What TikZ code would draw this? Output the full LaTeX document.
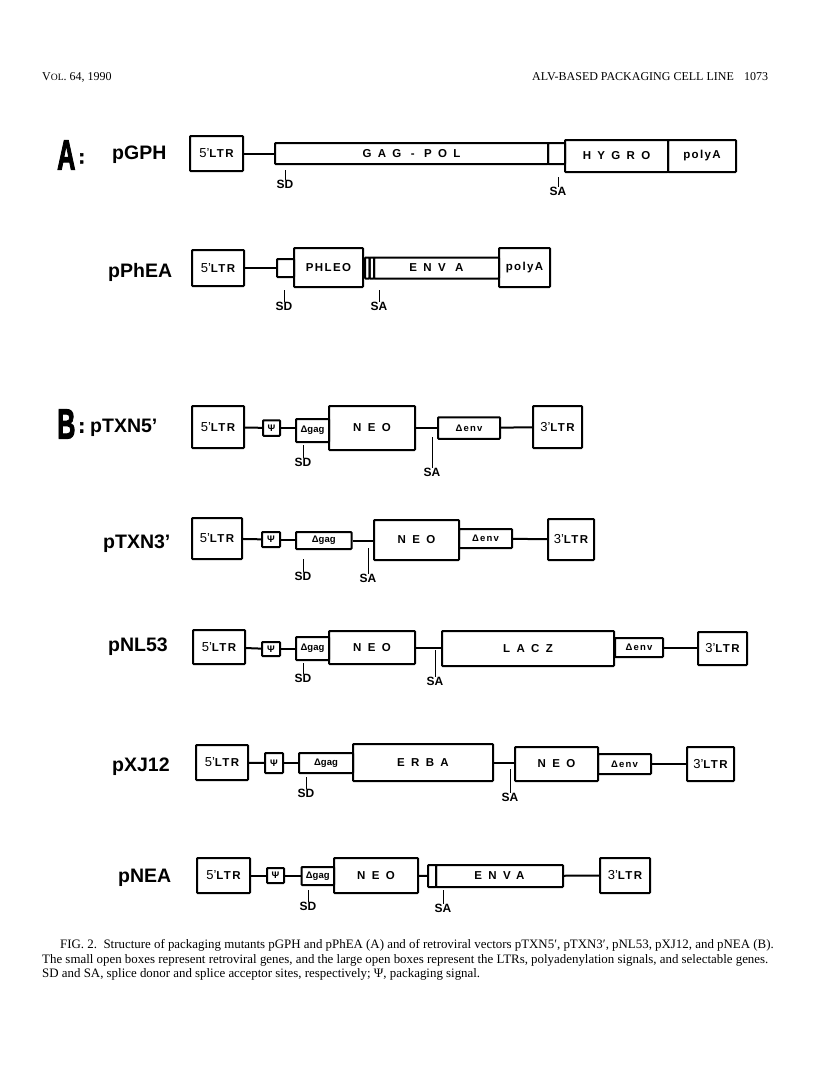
\documentclass[tikz,border=0pt]{standalone}
\usepackage{fontspec}
\setmainfont{Liberation Serif}
\newfontfamily\hel{Liberation Sans}
\newfontfamily\helm[LetterSpace=12]{Liberation Sans}
\newfontfamily\helw[LetterSpace=55]{Liberation Sans}
\newfontfamily\heavy[FakeBold=3]{Liberation Sans Bold}
\usetikzlibrary{positioning}
\newcommand{\fltr}{{\hel\mdseries\fontsize{13}{12}\selectfont 5’}LTR}
\newcommand{\tltr}{{\hel\mdseries\fontsize{13}{12}\selectfont 3’}LTR}

\begin{document}
\begin{tikzpicture}[x=1pt,y=-1pt,
  box/.style={draw,line width=2pt,inner sep=0pt,rounded corners=0.8pt,font=\helm\bfseries\fontsize{11.5}{11}\selectfont},
  wbox/.style={box,font=\helw\bfseries\fontsize{11.5}{11}\selectfont},
  sbox/.style={box,font=\hel\bfseries\fontsize{9.5}{9.5}\selectfont},
  link/.style={line width=2pt},
  tick/.style={line width=1pt},
  site/.style={font=\hel\bfseries\fontsize{12}{12}\selectfont,inner sep=0pt},
  pname/.style={font=\hel\bfseries\fontsize{19.5}{19.5}\selectfont,anchor=west,inner sep=0pt},
  part/.style={font=\heavy\fontsize{42}{42}\selectfont,anchor=west,inner sep=0pt},
  capt/.style={font=\fontsize{12.9}{14}\selectfont,anchor=base west,inner sep=0pt}]
  \useasboundingbox (0,0) rectangle (816,1073);

  % running head
  \node[capt,font=\fontsize{12}{14}\selectfont] (vol) at (42,81) {V{\fontsize{9.6}{10}\selectfont OL}. 64, 1990};
  \node[capt,font=\fontsize{12}{14}\selectfont] (head) at (532,81) {ALV-BASED PACKAGING CELL LINE};
  \node[capt,font=\fontsize{12}{14}\selectfont] (page) at (744,81) {1073};

  % A: pGPH
  \node[part] (partA) at (57,155) {\scalebox{0.6}[1]{A}\hspace{3pt}\raisebox{6pt}{\fontsize{20}{20}\selectfont:}};
  \node[pname] (gphN) at (112,155) {pGPH};
  \node[box,minimum width=53,minimum height=35] (gphL) at (216.5,153.5) {\fltr};
  \node[wbox,minimum width=273,minimum height=21] (gphG) at (411.5,153.5) {GAG - POL};
  \node[box,minimum width=17,minimum height=21] (gphS) at (556.5,153.5) {};
  \node[wbox,minimum width=103,minimum height=32] (gphH) at (616.5,156) {HYGRO};
  \node[box,minimum width=68,minimum height=32] (gphP) at (702,156) {polyA};
  \draw[link] (gphL.east) -- (gphL.east -| gphG.west);
  \node[site] (gphSD) at (285,184) {SD};
  \node[site] (gphSA) at (558,191) {SA};
  \draw[tick] (gphSD.north) -- +(0,-10);
  \draw[tick] (gphSA.north) -- +(0,-10);

  % pPhEA
  \node[pname] (pheN) at (108,272) {pPhEA};
  \node[box,minimum width=52,minimum height=36] (pheL) at (218,268) {\fltr};
  \node[box,minimum width=17,minimum height=18] (pheD) at (285.5,268) {};
  \node[box,minimum width=69,minimum height=39] (pheP) at (328.5,267.5) {PHLEO};
  \node[box,minimum width=4.5,minimum height=21] (pheS1) at (367.25,268) {};
  \node[box,minimum width=4.5,minimum height=21] (pheS2) at (371.75,268) {};
  \node[wbox,minimum width=125,minimum height=21] (pheE) at (436.5,268) {ENV A};
  \node[box,minimum width=51,minimum height=39] (pheA) at (524.5,267.5) {polyA};
  \draw[link] (pheL.east) -- (pheL.east -| pheD.west);
  \node[site] (pheSD) at (284,306) {SD};
  \node[site] (pheSA) at (379,306) {SA};
  \draw[tick] (pheSD.north) -- +(0,-12);
  \draw[tick] (pheSA.north) -- +(0,-12);

  % B: pTXN5'
  \node[part] (partB) at (57,424) {\scalebox{0.6}[1]{B}\hspace{3pt}\raisebox{6pt}{\fontsize{20}{20}\selectfont:}};
  \node[pname] (t5N) at (90,428) {pTXN5’};
  \node[box,minimum width=52,minimum height=42] (t5L) at (218,427) {\fltr};
  \node[sbox,minimum width=17,minimum height=15.5] (t5P) at (271.5,428) {Ψ};
  \node[sbox,minimum width=33,minimum height=23] (t5G) at (312.5,430.5) {Δgag};
  \node[wbox,minimum width=86,minimum height=44] (t5N2) at (372,428) {NEO};
  \node[sbox,minimum width=62,minimum height=21.5] (t5E) at (469,428) {\helm Δenv};
  \node[box,minimum width=49,minimum height=42] (t5R) at (557.5,427) {\tltr};
  \draw[link] (t5L) -- (t5P);
  \draw[link] (t5P) -- (t5P -| t5G.west);
  \draw[link] (t5E -| t5N2.east) -- (t5E);
  \draw[link] (t5E) -- (t5R);
  \node[site] (t5SD) at (303,462) {SD};
  \node[site] (t5SA) at (432,472) {SA};
  \draw[tick] (t5SD.north) -- +(0,-13);
  \draw[tick] (t5SA.north) -- +(0,-31);

  % pTXN3'
  \node[pname] (t3N) at (103,544) {pTXN3’};
  \node[box,minimum width=50,minimum height=41] (t3L) at (217,538.5) {\fltr};
  \node[sbox,minimum width=18,minimum height=15] (t3P) at (271,539.5) {Ψ};
  \node[sbox,minimum width=55.5,minimum height=17] (t3G) at (323.75,540.5) {Δgag\hspace{14pt}};
  \node[wbox,minimum width=85,minimum height=40] (t3N2) at (416.5,540) {NEO};
  \node[sbox,minimum width=53,minimum height=19] (t3E) at (485.5,538.5) {\helm Δenv};
  \node[box,minimum width=46,minimum height=41] (t3R) at (571,539.5) {\tltr};
  \draw[link] (t3L) -- (t3P);
  \draw[link] (t3P) -- (t3P -| t3G.west);
  \draw[link] (t3G) -- (t3G -| t3N2.west);
  \draw[link] (t3E) -- (t3R);
  \node[site] (t3SD) at (303,576) {SD};
  \node[site] (t3SA) at (368,578) {SA};
  \draw[tick] (t3SD.north) -- +(0,-13);
  \draw[tick] (t3SA.north) -- +(0,-26);

  % pNL53
  \node[pname] (nlN) at (108,647) {pNL53};
  \node[box,minimum width=52,minimum height=34] (nlL) at (219,647) {\fltr};
  \node[sbox,minimum width=18,minimum height=14] (nlP) at (271,649) {Ψ};
  \node[sbox,minimum width=33,minimum height=23] (nlG) at (312.5,648.5) {Δgag};
  \node[wbox,minimum width=86,minimum height=33] (nlN2) at (372,647.5) {NEO};
  \node[wbox,minimum width=172,minimum height=35] (nlZ) at (528,648.5) {LACZ};
  \node[sbox,minimum width=48,minimum height=19] (nlE) at (639,647.5) {\helm Δenv};
  \node[box,minimum width=49,minimum height=33] (nlR) at (722.5,648.5) {\tltr};
  \draw[link] (nlL) -- (nlP);
  \draw[link] (nlP) -- (nlP -| nlG.west);
  \draw[link] (nlN2) -- (nlN2 -| nlZ.west);
  \draw[link] (nlE) -- (nlE -| nlR.west);
  \node[site] (nlSD) at (303,678) {SD};
  \node[site] (nlSA) at (435,681) {SA};
  \draw[tick] (nlSD.north) -- +(0,-11);
  \draw[tick] (nlSA.north) -- +(0,-27);

  % pXJ12
  \node[pname] (xjN) at (112,767) {pXJ12};
  \node[box,minimum width=52,minimum height=35] (xjL) at (222,762.5) {\fltr};
  \node[sbox,minimum width=18,minimum height=20] (xjP) at (274,763) {Ψ};
  \node[sbox,minimum width=54,minimum height=20] (xjG) at (326,763) {Δgag\hspace{14pt}};
  \node[wbox,minimum width=140,minimum height=37] (xjB) at (423,762.5) {ERBA};
  \node[wbox,minimum width=83,minimum height=34] (xjN2) at (556.5,764) {NEO};
  \node[sbox,minimum width=53,minimum height=20] (xjE) at (624.5,764) {\helm Δenv};
  \node[box,minimum width=47,minimum height=34] (xjR) at (710.5,764) {\tltr};
  \draw[link] (xjL) -- (xjP);
  \draw[link] (xjP) -- (xjP -| xjG.west);
  \draw[link] (xjB.east) -- (xjB.east -| xjN2.west);
  \draw[link] (xjE) -- (xjE -| xjR.west);
  \node[site] (xjSD) at (306,793) {SD};
  \node[site] (xjSA) at (510,797) {SA};
  \draw[tick] (xjSD.north) -- +(0,-12);
  \draw[tick] (xjSA.north) -- +(0,-24);

  % pNEA
  \node[pname] (neN) at (118,878) {pNEA};
  \node[box,minimum width=53,minimum height=35] (neL) at (223.5,875.5) {\fltr};
  \node[sbox,minimum width=17,minimum height=15] (neP) at (275.5,875.5) {Ψ};
  \node[sbox,minimum width=32.5,minimum height=18] (neG) at (317.75,876) {Δgag};
  \node[wbox,minimum width=84,minimum height=35] (neN2) at (376,875.5) {NEO};
  \node[box,minimum width=8,minimum height=22] (neS) at (432,876) {};
  \node[wbox,minimum width=127,minimum height=22] (neE) at (499.5,876) {ENVA};
  \node[box,minimum width=50,minimum height=35] (neR) at (625,875.5) {\tltr};
  \draw[link] (neL) -- (neP);
  \draw[link] (neP) -- (neP -| neG.west);
  \draw[link] (neN2) -- (neS);
  \draw[link] (neE) -- (neR);
  \node[site] (neSD) at (308,906) {SD};
  \node[site] (neSA) at (443,908) {SA};
  \draw[tick] (neSD.north) -- +(0,-12);
  \draw[tick] (neSA.north) -- +(0,-14);

  % caption
  \node[capt] (cap1) at (60,948) {FIG. 2.\ \ Structure of packaging mutants pGPH and pPhEA (A) and of retroviral vectors pTXN5′, pTXN3′, pNL53, pXJ12, and pNEA (B).};
  \node[capt] (cap2) at (42,963) {The small open boxes represent retroviral genes, and the large open boxes represent the LTRs, polyadenylation signals, and selectable genes.};
  \node[capt] (cap3) at (42,977) {SD and SA, splice donor and splice acceptor sites, respectively; Ψ, packaging signal.};
\end{tikzpicture}
\end{document}
